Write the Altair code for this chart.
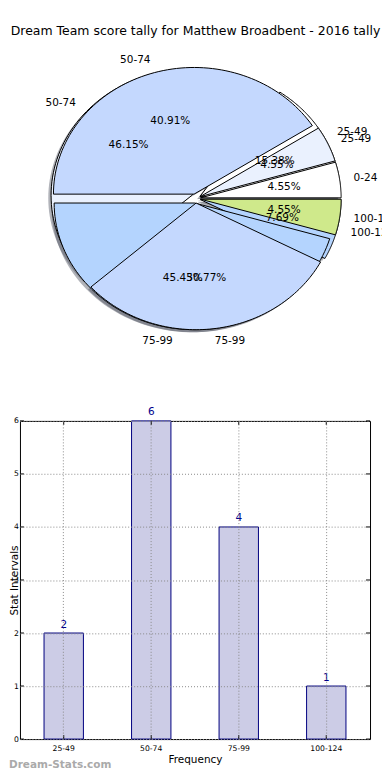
import altair as alt
import pandas as pd

TITLE = "Dream Team score tally for Matthew Broadbent - 2016 tally"

# ---- pie 1 (all matches) ----
pie1_labels = ["0-24", "25-49", "50-74", "75-99", "100-124"]
pie1_counts = [1, 1, 9, 10, 1]
pie1_colors = ["#ffffff", "#eaf1fe", "#c4d8fe", "#b4d4fe", "#cfe98b"]
pie1_layer = [4, 4, 4, 2, 4]

# ---- pie 2 (stat intervals) ----
pie2_labels = ["25-49", "50-74", "75-99", "100-124"]
pie2_counts = [2, 6, 4, 1]
pie2_colors = ["#ffffff", "#eaf1fe", "#c4d8fe", "#b4d4fe"]
pie2_layer = [1, 1, 3, 1]

# ---- bar chart ----
bar_labels = ["25-49", "50-74", "75-99", "100-124"]
bar_values = [2, 6, 4, 1]
y_ticks = [0, 1, 2, 3, 4, 5, 6]

rows = []
for pie, labs, cnts, cols, lays in [("A", pie1_labels, pie1_counts, pie1_colors, pie1_layer),
                                     ("B", pie2_labels, pie2_counts, pie2_colors, pie2_layer)]:
    for i, (l, c, col, z) in enumerate(zip(labs, cnts, cols, lays)):
        rows.append({"pie": pie, "idx": i, "label": l, "n": c, "color": col, "z": z})
pie_df = pd.DataFrame(rows)

EXPLODE = 0.036
NPTS = 80

base = (
    alt.Chart(pie_df)
    .transform_joinaggregate(total="sum(n)", groupby=["pie"])
    .transform_window(cum="sum(n)", groupby=["pie"], sort=[alt.SortField("idx", order="ascending")], frame=[None, 0])
    .transform_calculate(a0="2*PI*(datum.cum - datum.n)/datum.total", a1="2*PI*datum.cum/datum.total")
    .transform_calculate(mid="(datum.a0 + datum.a1)/2")
    .transform_calculate(ex=f"{EXPLODE}*cos(datum.mid)", ey=f"{EXPLODE}*sin(datum.mid)",
                         key="datum.pie + '_' + datum.label",
                         pct="100*datum.n/datum.total")
)

poly = (
    base.transform_calculate(k=f"sequence(0, {NPTS + 2})")
    .transform_flatten(["k"])
    .transform_calculate(ang=f"datum.a0 + (datum.a1 - datum.a0)*(datum.k - 1)/{NPTS}")
    .transform_calculate(px="datum.ex + (datum.k == 0 ? 0 : cos(datum.ang))",
                         py="datum.ey + (datum.k == 0 ? 0 : sin(datum.ang))")
)

xs = alt.Scale(domain=[-1, 1], range=[35, 317], nice=False, zero=False)
ys = alt.Scale(domain=[-1, 1], range=[317, 63], nice=False, zero=False)


def PX(f):
    return alt.X(f, type="quantitative", scale=xs, axis=None)


def PY(f):
    return alt.Y(f, type="quantitative", scale=ys, axis=None)


shadow = (
    poly.transform_calculate(sx="datum.px - 0.02", sy="datum.py - 0.02")
    .mark_line(interpolate="linear-closed", fill="#3c4250", fillOpacity=0.4, strokeOpacity=0)
    .encode(x=PX("sx"), y=PY("sy"), detail="key:N", order="k:Q")
)


def slices(z):
    return (
        poly.transform_filter(f"datum.z == {z}")
        .mark_line(interpolate="linear-closed", stroke="black", strokeWidth=1)
        .encode(x=PX("px"), y=PY("py"), detail="key:N", order="k:Q",
                fill=alt.Fill("color:N", scale=None))
    )


lab = base.transform_calculate(lx="datum.ex + 1.1*cos(datum.mid)", ly="datum.ey + 1.1*sin(datum.mid)")
lab_right = lab.transform_filter("cos(datum.mid) >= 0").mark_text(
    align="left", baseline="middle", fontSize=10.5, color="black", clip=True
).encode(x=PX("lx"), y=PY("ly"), text="label:N")
lab_left = lab.transform_filter("cos(datum.mid) < 0").mark_text(
    align="right", baseline="middle", fontSize=10.5, color="black", clip=True
).encode(x=PX("lx"), y=PY("ly"), text="label:N")

pct = base.transform_calculate(
    tx="datum.ex + 0.6*cos(datum.mid)", ty="datum.ey + 0.6*sin(datum.mid)",
    ptxt="format(datum.pct, '.2f') + '%'"
).mark_text(align="center", baseline="middle", fontSize=10.5, color="black").encode(
    x=PX("tx"), y=PY("ty"), text="ptxt:N")

title_df = pd.DataFrame({"t": [TITLE]})
title_txt = alt.Chart(title_df).mark_text(align="center", baseline="middle", fontSize=12.5,
                                          color="black").encode(
    x=alt.value(176), y=alt.value(22), text="t:N")

pie_panel = alt.layer(shadow, slices(1), slices(2), slices(3), slices(4),
                      lab_right, lab_left, pct, title_txt).properties(width=363, height=413)

# ---------------- bar panel ----------------
W2, H2 = 351, 319
bar_df = pd.DataFrame({"cat": bar_labels, "val": bar_values})
tick_df = pd.DataFrame({"t": y_ticks})
mark_df = pd.DataFrame({"txt": ["Dream-Stats.com"]})

xband = alt.Scale(domain=bar_labels, paddingInner=0.55, paddingOuter=0.275)
yq = alt.Scale(domain=[0, 6], nice=False, zero=True)

x_axis = alt.Axis(title="Frequency", titleFontSize=10.5, titleFontWeight="normal", titleColor="black",
                  titlePadding=3, labelAngle=0, labelFontSize=7.7, labelColor="black", labelPadding=5,
                  ticks=False, domain=False, grid=True, gridColor="#8a8a8a", gridDash=[1, 2],
                  gridOpacity=1, zindex=1)
y_axis = alt.Axis(title="Stat Intervals", values=y_ticks, titleFontSize=10.5, titleFontWeight="normal",
                  titleColor="black", titleX=-2.5, titleY=H2 / 2, titleAngle=270, titleBaseline="alphabetic",
                  titleAlign="center", labelFontSize=7.7, labelColor="black", labelPadding=1.5,
                  ticks=False, domain=False, grid=True, gridColor="#8a8a8a", gridDash=[1, 2],
                  gridOpacity=1, zindex=1)

XB = alt.X("cat:N", scale=xband, sort=bar_labels, axis=x_axis)

bars = alt.Chart(bar_df).mark_bar(fill="#cccce6", stroke="#000080", strokeWidth=1).encode(
    x=XB, y=alt.Y("val:Q", scale=yq, axis=y_axis))
vals = alt.Chart(bar_df).mark_text(baseline="bottom", dy=-3.5, fontSize=10.5, color="#00008b").encode(
    x=XB, y=alt.Y("val:Q", scale=yq, axis=y_axis), text="val:Q")
yt_l = alt.Chart(tick_df).mark_rule(color="black", strokeWidth=1).encode(
    y=alt.Y("t:Q", scale=yq, axis=y_axis), x=alt.value(0), x2=alt.value(4))
yt_r = alt.Chart(tick_df).mark_rule(color="black", strokeWidth=1).encode(
    y=alt.Y("t:Q", scale=yq, axis=y_axis), x=alt.value(W2 - 4), x2=alt.value(W2))
xt_t = alt.Chart(bar_df).mark_rule(color="black", strokeWidth=1).encode(
    x=XB, y=alt.value(0), y2=alt.value(4))
xt_b = alt.Chart(bar_df).mark_rule(color="black", strokeWidth=1).encode(
    x=XB, y=alt.value(H2 - 4), y2=alt.value(H2))
water = alt.Chart(mark_df).mark_text(align="left", baseline="middle", fontSize=10.5, fontWeight="bold",
                                     color="#aaaaaa").encode(
    x=alt.value(-11), y=alt.value(H2 + 26), text="txt:N")

bar_panel = alt.layer(bars, yt_l, yt_r, xt_t, xt_b, vals, water).properties(
    width=W2, height=H2, view=alt.ViewBackground(stroke="black", strokeWidth=1))

chart = (
    alt.vconcat(pie_panel, bar_panel, spacing=0, bounds="flush")
    .properties(padding=0)
    .configure(font="DejaVu Sans")
    .configure_view(strokeWidth=0)
)

chart.save("out.html", embed_options={"renderer": "svg", "actions": False})
